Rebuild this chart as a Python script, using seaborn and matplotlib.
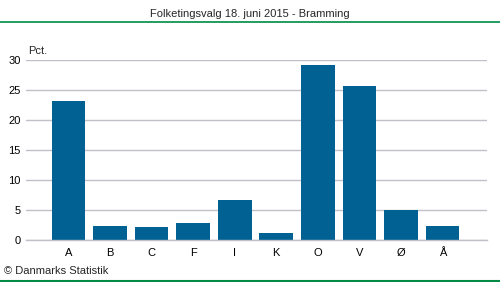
import matplotlib
matplotlib.use("Agg")
import matplotlib.pyplot as plt
import seaborn as sns
import pandas as pd

parties = ["A", "B", "C", "F", "I", "K", "O", "V", "Ø", "Å"]
values = [23.2, 2.3, 2.2, 2.8, 6.7, 1.2, 29.2, 25.7, 5.0, 2.3]
yticks = [0, 5, 10, 15, 20, 25, 30]

sns.set_theme(style="white")
plt.rcParams["font.family"] = ["Liberation Sans", "DejaVu Sans"]

df = pd.DataFrame({"parti": parties, "pct": values})

fig = plt.figure(figsize=(5.0, 2.82), dpi=100)
ax = fig.add_axes([26/500, 42/282, 461/500, 180/282])
sns.barplot(data=df, x="parti", y="pct", color="#006192", saturation=1,
            width=0.81, linewidth=0, ax=ax)
ax.set_xlim(-1.02, 10.07)
ax.set_ylim(0, 30)
ax.set_yticks(yticks)
ax.set_yticklabels([str(t) for t in yticks])
ax.yaxis.grid(True, color="#c0c0c8", linewidth=1)
ax.set_axisbelow(True)
for s in ["top", "right", "left"]:
    ax.spines[s].set_visible(False)
ax.spines["bottom"].set_color("#c0c0c8")
ax.spines["bottom"].set_linewidth(1)
ax.tick_params(axis="both", length=0, labelsize=8, colors="#000000", pad=4)
ax.tick_params(axis="x", pad=6)
ax.set_xlabel("")
ax.set_ylabel("")

fig.text(0.5, 1 - 14/282, "Folketingsvalg 18. juni 2015 - Bramming", ha="center",
         va="center", fontsize=8)
fig.add_artist(plt.Line2D([0, 1], [1 - 22/282, 1 - 22/282], color="#008a46", linewidth=1.2))
fig.add_artist(plt.Line2D([0, 1], [1/282, 1/282], color="#008a46", linewidth=1.5))
fig.text(28/500, 1 - 51/282, "Pct.", ha="left", va="center", fontsize=8)
fig.text(4/500, 1 - 271/282, "© Danmarks Statistik", ha="left", va="center", fontsize=8)

fig.savefig("out.png", dpi=100)
